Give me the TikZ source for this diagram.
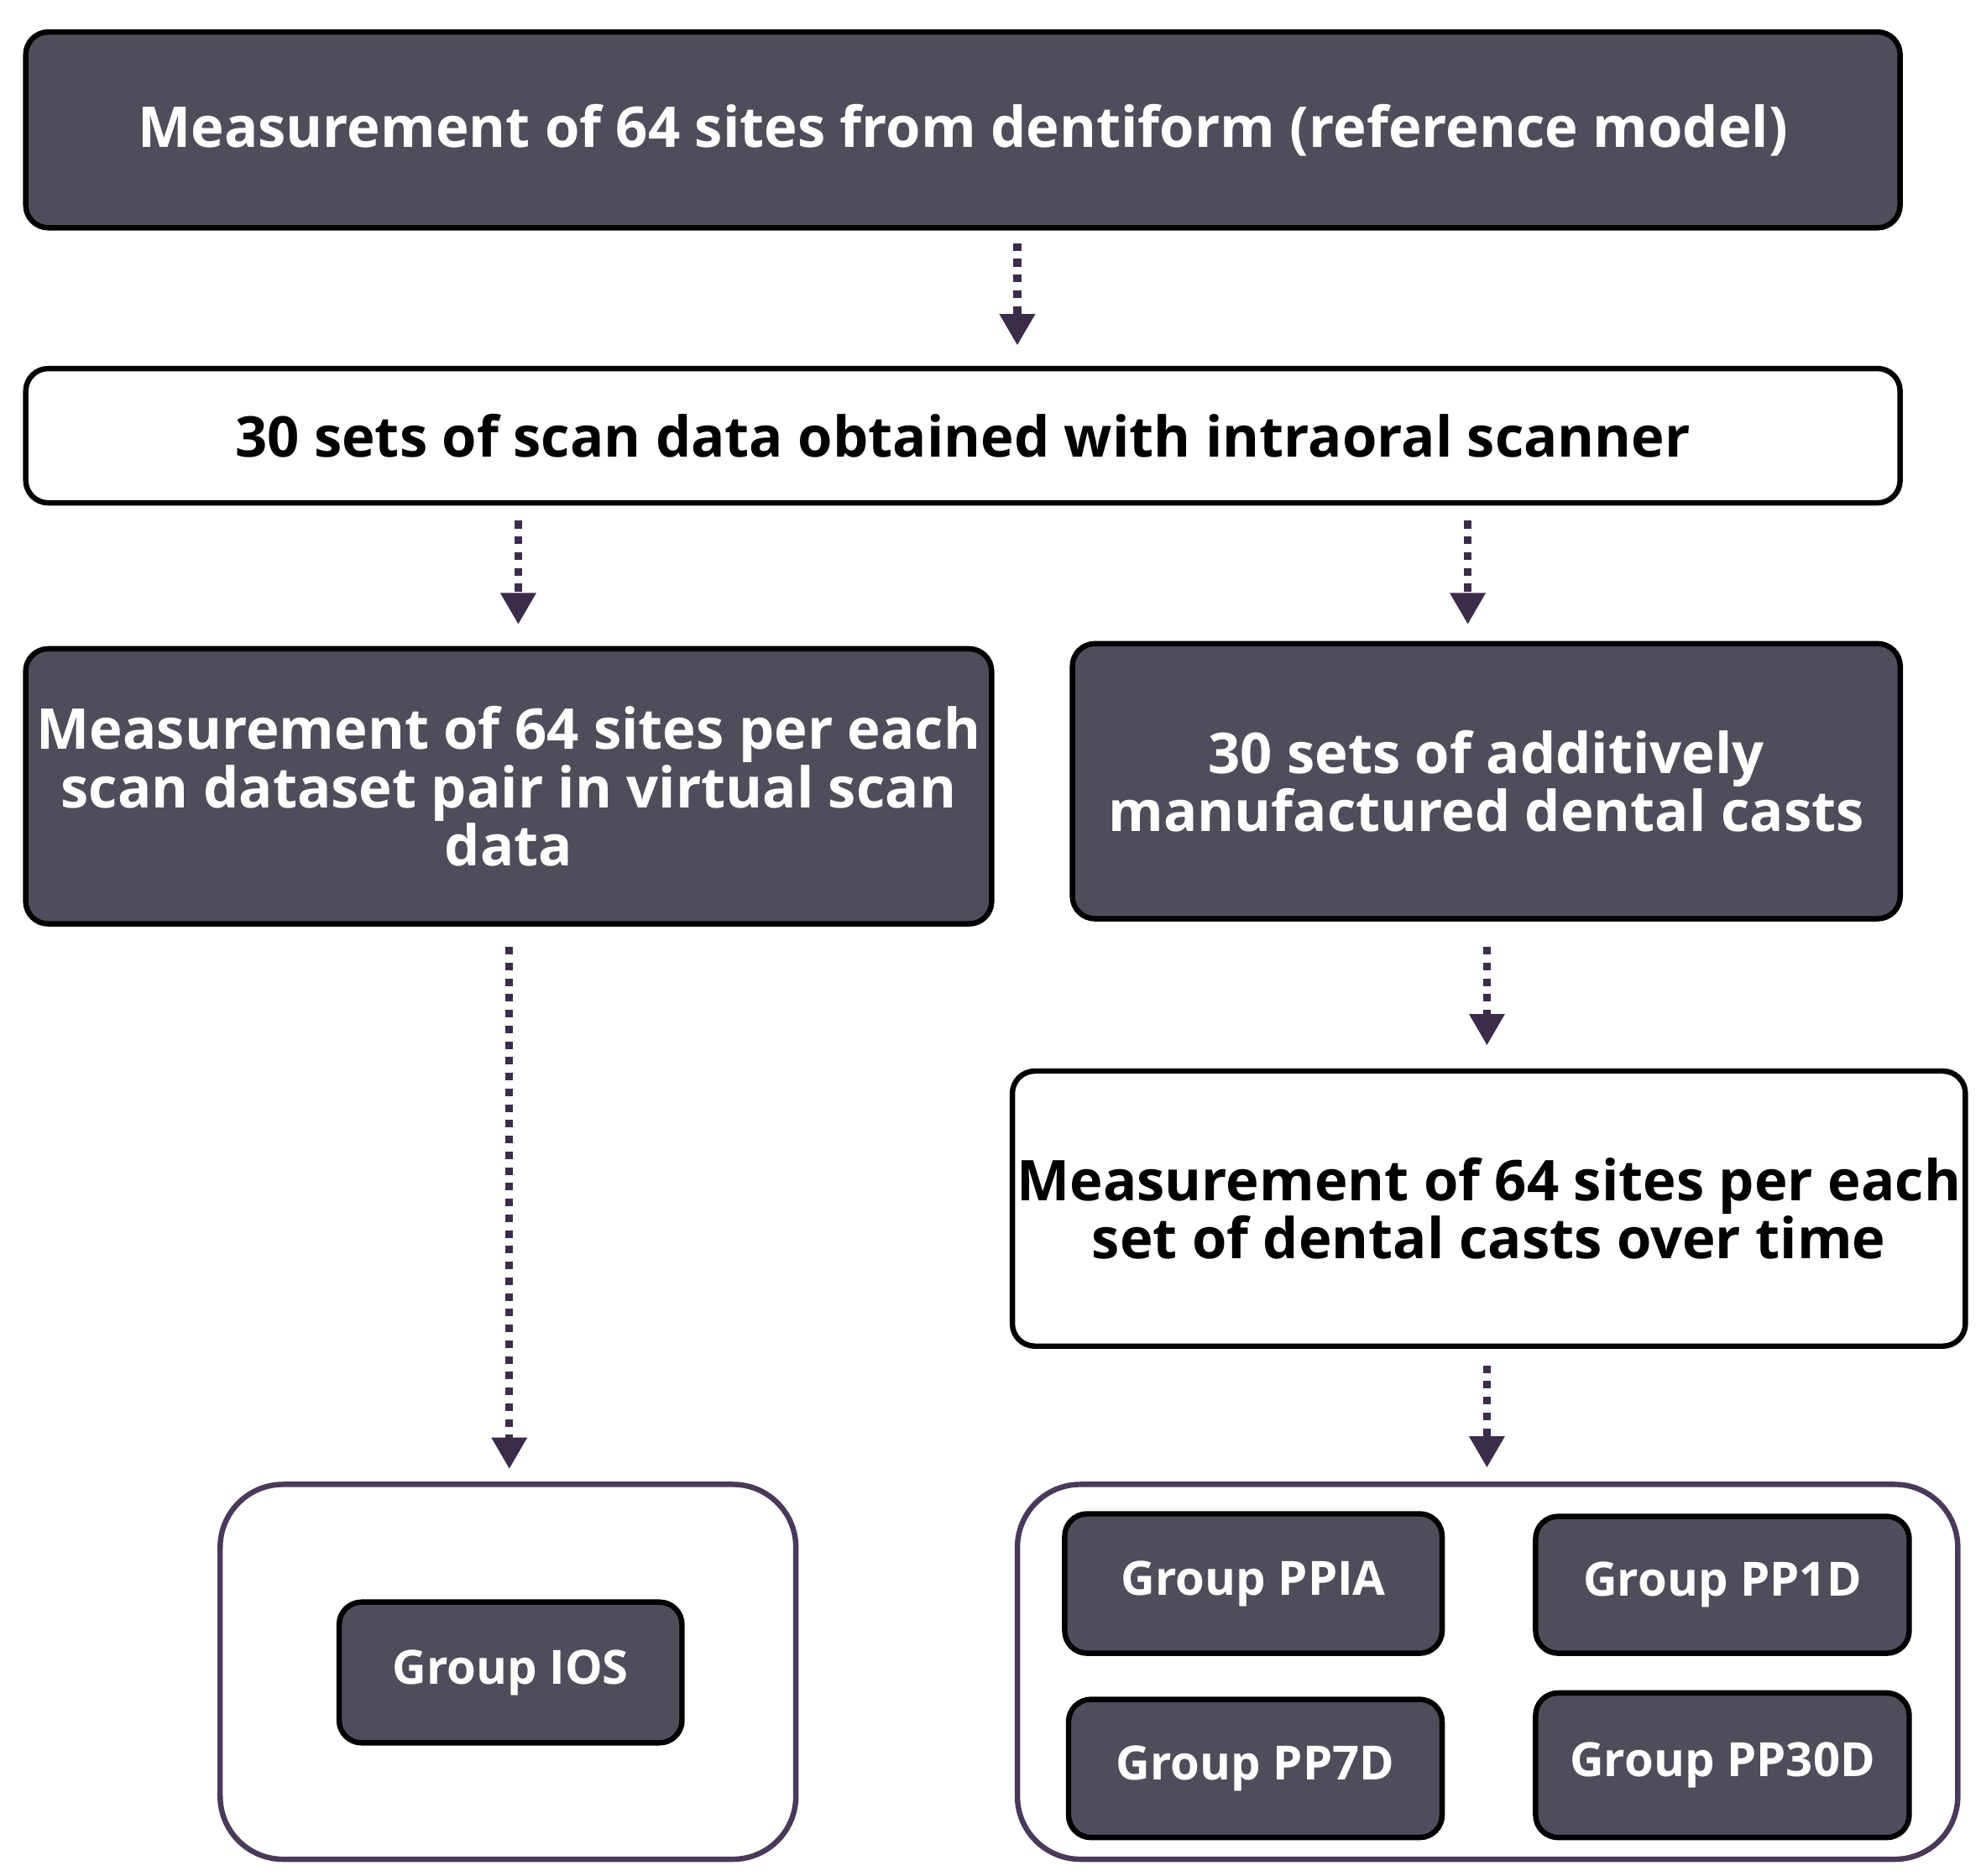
\documentclass[tikz,border=0pt]{standalone}
\usepackage{fontspec}
\setmainfont{Open Sans}
\usetikzlibrary{arrows.meta}
\definecolor{dark}{HTML}{4F4D5A}
\definecolor{arr}{HTML}{3B2D4A}
\definecolor{cont}{HTML}{4A3A5A}
\begin{document}
\begin{tikzpicture}[x=0.02cm,y=-0.02cm,
  base/.style={draw=black,line width=2.4pt,rounded corners=10pt,align=center,font=\bfseries\fontsize{25}{26}\selectfont,inner sep=2pt},
  darkbox/.style={base,fill=dark,text=white},
  whitebox/.style={base,fill=white,text=black},
  grp/.style={base,fill=dark,text=white,font=\bfseries\fontsize{21}{24}\selectfont},
  cont/.style={draw=cont,line width=2.4pt,rounded corners=28pt,fill=white},
  arw/.style={draw=arr,line width=3.4pt,dash pattern=on 3.4pt off 3.6pt,-{Triangle[length=14pt,width=15pt,fill=arr]}}]
\useasboundingbox (0,0) rectangle (1552,1466);
\node[darkbox,minimum width=29.3cm,minimum height=3.06cm] (b1) at (752.5,101.5) {Measurement of 64 sites from dentiform (reference model)};
\node[whitebox,minimum width=29.3cm,minimum height=2.1cm] (b2) at (752.5,340.5) {30 sets of scan data obtained with intraoral scanner};
\node[darkbox,minimum width=15.1cm,minimum height=4.3cm] (b3) at (397.5,614.5) {Measurement of 64 sites per each\\scan dataset pair in virtual scan\\data};
\node[darkbox,minimum width=12.94cm,minimum height=4.3cm] (b4) at (1161.5,610.5) {30 sets of additively\\manufactured dental casts};
\node[whitebox,minimum width=14.86cm,minimum height=4.3cm] (b5) at (1163.5,944.5) {Measurement of 64 sites per each\\set of dental casts over time};
\node[cont,minimum width=9.0cm,minimum height=5.86cm] (cl) at (397,1306.5) {};
\node[cont,minimum width=14.7cm,minimum height=5.86cm] (cr) at (1162.5,1306.5) {};
\node[grp,minimum width=5.36cm,minimum height=2.2cm] (ios) at (399,1307) {Group IOS};
\node[grp,minimum width=5.9cm,minimum height=2.18cm] (ppia) at (979.5,1237.5) {Group PPIA};
\node[grp,minimum width=5.84cm,minimum height=2.14cm] (pp1d) at (1346,1238.5) {Group PP1D};
\node[grp,minimum width=5.84cm,minimum height=2.16cm] (pp7d) at (981,1382) {Group PP7D};
\node[grp,minimum width=5.84cm,minimum height=2.26cm] (pp30d) at (1346,1379.5) {Group PP30D};
\coordinate (a1s) at (795,190); \coordinate (a1e) at (795,270);
\coordinate (a2s) at (405,407); \coordinate (a2e) at (405,488);
\coordinate (a3s) at (1147,407); \coordinate (a3e) at (1147,488);
\coordinate (a4s) at (398,740); \coordinate (a4e) at (398,1148);
\coordinate (a5s) at (1162,740); \coordinate (a5e) at (1162,817);
\coordinate (a6s) at (1162,1067); \coordinate (a6e) at (1162,1147);
\draw[arw] (a1s) -- (a1e);
\draw[arw] (a2s) -- (a2e);
\draw[arw] (a3s) -- (a3e);
\draw[arw] (a4s) -- (a4e);
\draw[arw] (a5s) -- (a5e);
\draw[arw] (a6s) -- (a6e);
\end{tikzpicture}
\end{document}
